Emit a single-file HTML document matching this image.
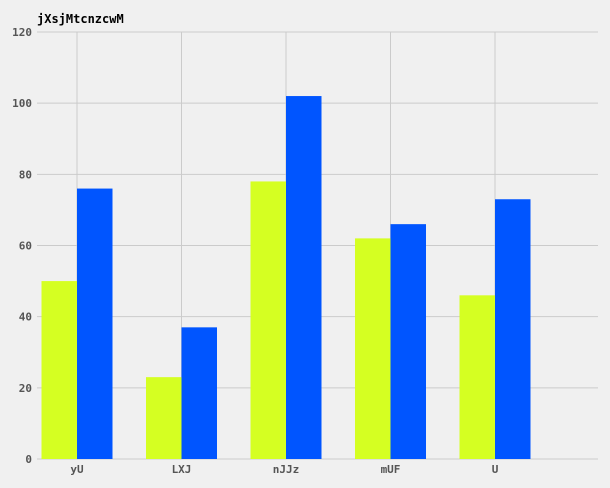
<!DOCTYPE html>
<html><head><meta charset="utf-8"><style>
html,body{margin:0;padding:0;background:#f0f0f0;width:610px;height:488px;overflow:hidden;}
svg{display:block;}
text{font-family:"DejaVu Sans Mono","Liberation Mono",monospace;}
</style></head><body>
<svg id="chart" width="610" height="488" xmlns="http://www.w3.org/2000/svg">
<rect width="610" height="488" fill="#f0f0f0"/>
<text x="37" y="23" font-size="12" font-weight="bold" fill="#000">jXsjMtcnzcwM</text>
<g id="grid"></g><g id="bars"></g><g id="labels"></g>
</svg>
<script>
const categories = ["yU","LXJ","nJJz","mUF","U"];
const seriesA = [50,23,78,62,46];
const seriesB = [76,37,102,66,73];
const yTicks = [0,20,40,60,80,100,120];
const NS="http://www.w3.org/2000/svg";
const y0=459, y1=32, plotL=37, plotR=598;
function yS(v){return y0-(v/120)*(y0-y1);}
function xC(i){return 77+i*104.5;}
const bw=35.5;
function mk(tag,attrs,parent){const e=document.createElementNS(NS,tag);for(const k in attrs)e.setAttribute(k,attrs[k]);parent.appendChild(e);return e;}
const grid=document.getElementById('grid'),bars=document.getElementById('bars'),labels=document.getElementById('labels');
yTicks.forEach(t=>{
  const l=mk('line',{x1:plotL,x2:plotR,y1:yS(t),y2:yS(t),stroke:'#cbcbcb','stroke-width':1},grid);
  
  
  const tx=mk('text',{x:32,y:yS(t)+4,'text-anchor':'end','font-size':11,'font-weight':'bold',fill:'#555'},labels);
  tx.textContent=t;
  
  
});
categories.forEach((c,i)=>{
  const l=mk('line',{x1:xC(i),x2:xC(i),y1:y1,y2:y0,stroke:'#cbcbcb','stroke-width':1},grid);
  
  
  const a=mk('rect',{x:xC(i)-bw,y:yS(seriesA[i]),width:bw,height:y0-yS(seriesA[i]),fill:'#d5ff22'},bars);
  
  
  const b=mk('rect',{x:xC(i),y:yS(seriesB[i]),width:bw,height:y0-yS(seriesB[i]),fill:'#0055ff'},bars);
  
  
  const tx=mk('text',{x:xC(i),y:473,'text-anchor':'middle','font-size':11,'font-weight':'bold',fill:'#555'},labels);
  tx.textContent=c;
  
  
});
</script>
</body></html>
